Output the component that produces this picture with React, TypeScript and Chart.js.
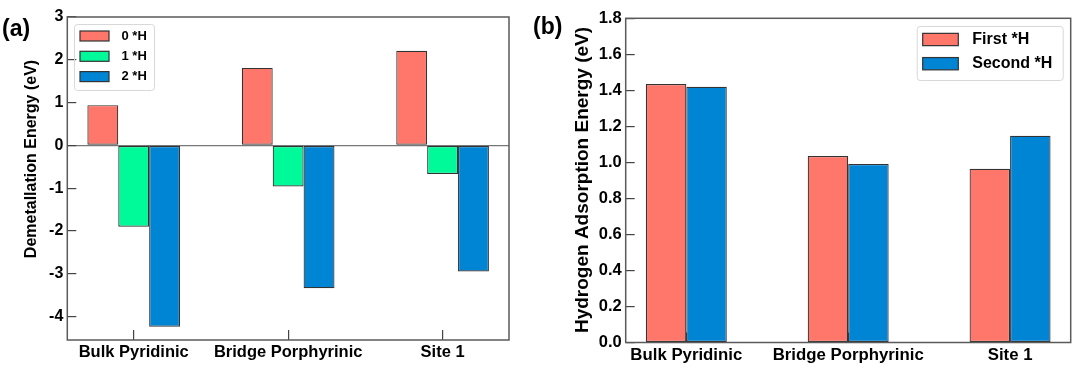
import React, { useEffect, useRef } from 'react';
import { Chart, registerables } from 'chart.js';

Chart.register(...registerables);

// ---------- data ----------
const categories = ['Bulk Pyridinic', 'Bridge Porphyrinic', 'Site 1'];

const leftSeriesLabels = ['0 *H', '1 *H', '2 *H'];
const zeroH = [0.94, 1.81, 2.21];
const oneH = [-1.9, -0.96, -0.67];
const twoH = [-4.24, -3.34, -2.95];
const leftYTicks = [3, 2, 1, 0, -1, -2, -3, -4];

const rightSeriesLabels = ['First *H', 'Second *H'];
const firstH = [1.435, 1.035, 0.965];
const secondH = [1.42, 0.991, 1.148];
const rightYTicks = [0, 0.2, 0.4, 0.6, 0.8, 1.0, 1.2, 1.4, 1.6, 1.8];

const leftYTitle = 'Demetallation Energy (eV)';
const rightYTitle = 'Hydrogen Adsorption Energy (eV)';

// ---------- styles ----------
const RED = '#FF766A';
const GREEN = '#00FA9A';
const BLUE = '#0084D4';
const BAR_BORDER = '#333333';
const FONT = 'Arial, "Liberation Sans", Helvetica, sans-serif';

const toPoints = (vals: number[]) => vals.map((v, i) => ({ x: i, y: v }));

// plot frame
const framePlugin = {
  id: 'frame',
  afterDraw(chart: any) {
    const { ctx, chartArea: a } = chart;
    ctx.save();
    ctx.strokeStyle = '#5a5a5a';
    ctx.lineWidth = 1.5;
    ctx.strokeRect(a.left, a.top, a.right - a.left, a.bottom - a.top);
    ctx.restore();
  },
};

// extra text: panel label + rotated y title
const textPlugin = {
  id: 'extraText',
  afterDraw(chart: any, _args: any, opts: any) {
    const { ctx } = chart;
    ctx.save();
    ctx.fillStyle = '#000';
    ctx.font = `bold ${opts.panelSize}px ${FONT}`;
    ctx.textAlign = 'left';
    ctx.textBaseline = 'alphabetic';
    ctx.fillText(opts.panel, opts.panelX, opts.panelY);
    ctx.translate(opts.titleX, opts.titleY);
    ctx.rotate(-Math.PI / 2);
    ctx.font = `bold ${opts.titleSize}px ${FONT}`;
    ctx.textAlign = 'center';
    ctx.textBaseline = 'middle';
    ctx.fillText(opts.title, 0, 0);
    ctx.restore();
  },
};

// boxed legend
const boxLegendPlugin = {
  id: 'boxLegend',
  afterDraw(chart: any, _args: any, o: any) {
    const { ctx } = chart;
    ctx.save();
    ctx.strokeStyle = '#d8d8d8';
    ctx.lineWidth = 1;
    ctx.beginPath();
    (ctx as any).roundRect(o.x + 0.5, o.y + 0.5, o.w, o.h, 3);
    ctx.stroke();
    ctx.font = `bold ${o.fontSize}px ${FONT}`;
    ctx.textAlign = 'left';
    ctx.textBaseline = 'middle';
    chart.data.datasets.forEach((ds: any, i: number) => {
      const cy = o.firstY + i * o.rowH;
      ctx.fillStyle = ds.backgroundColor;
      ctx.fillRect(o.swX, cy - o.swH / 2, o.swW, o.swH);
      ctx.strokeStyle = BAR_BORDER;
      ctx.lineWidth = 1.2;
      ctx.strokeRect(o.swX, cy - o.swH / 2, o.swW, o.swH);
      ctx.fillStyle = '#000';
      ctx.fillText(ds.label, o.textX, cy);
    });
    ctx.restore();
  },
};

function makeConfig(p: {
  datasets: any[];
  xMin: number;
  xMax: number;
  yMin: number;
  yMax: number;
  yTicks: number[];
  yFmt: (v: number) => string;
  yWidth: number;
  xHeight: number;
  padTop: number;
  padRight: number;
  catPct: number;
  tickFont: number;
  catFont: number;
  zeroLine: boolean;
  text: any;
  legend: any;
}) {
  return {
    type: 'bar' as const,
    data: { datasets: p.datasets },
    options: {
      animation: false,
      responsive: false,
      devicePixelRatio: 1,
      layout: { padding: { top: p.padTop, right: p.padRight, left: 0, bottom: 0 } },
      datasets: {
        bar: { categoryPercentage: p.catPct, barPercentage: 1 },
      },
      plugins: {
        legend: { display: false },
        tooltip: { enabled: false },
        extraText: p.text,
        boxLegend: p.legend,
      },
      scales: {
        x: {
          type: 'linear',
          offset: false,
          min: p.xMin,
          max: p.xMax,
          afterBuildTicks: (s: any) => {
            s.ticks = categories.map((_, i) => ({ value: i }));
          },
          afterFit: (s: any) => {
            s.height = p.xHeight;
            s.paddingLeft = 0;
            s.paddingRight = 0;
          },
          ticks: {
            callback: (v: any) => categories[v as number] ?? '',
            autoSkip: false,
            maxRotation: 0,
            includeBounds: false,
            padding: 13,
            color: '#000',
            font: { family: FONT, size: p.catFont, weight: 'bold' },
          },
          grid: {
            offset: false,
            drawOnChartArea: false,
            drawTicks: true,
            tickLength: -10,
            tickColor: '#444',
            lineWidth: 1.2,
          },
          border: { display: false },
        },
        y: {
          type: 'linear',
          min: p.yMin,
          max: p.yMax,
          afterBuildTicks: (s: any) => {
            s.ticks = p.yTicks.map((v) => ({ value: v }));
          },
          afterFit: (s: any) => {
            s.width = p.yWidth;
            s.paddingTop = 0;
            s.paddingBottom = 0;
          },
          ticks: {
            callback: (v: any) => p.yFmt(v as number),
            autoSkip: false,
            padding: 13,
            color: '#000',
            font: { family: FONT, size: p.tickFont, weight: 'bold' },
          },
          grid: {
            drawOnChartArea: p.zeroLine,
            drawTicks: true,
            tickLength: -9,
            tickColor: '#444',
            lineWidth: 1.2,
            color: (c: any) => (c.tick && c.tick.value === 0 ? '#777' : 'rgba(0,0,0,0)'),
          },
          border: { display: false },
        },
      },
    },
    plugins: [framePlugin, textPlugin, boxLegendPlugin],
  };
}

const barStyle = (color: string) => ({
  backgroundColor: color,
  borderColor: BAR_BORDER,
  borderWidth: 1.2,
  borderSkipped: false as const,
});

const LEFT_W = 525;
const RIGHT_W = 555;
const H = 371;

export default function App() {
  const leftRef = useRef<HTMLCanvasElement | null>(null);
  const rightRef = useRef<HTMLCanvasElement | null>(null);

  useEffect(() => {
    const leftCfg = makeConfig({
      datasets: [
        { label: leftSeriesLabels[0], data: toPoints(zeroH), ...barStyle(RED) },
        { label: leftSeriesLabels[1], data: toPoints(oneH), ...barStyle(GREEN) },
        { label: leftSeriesLabels[2], data: toPoints(twoH), ...barStyle(BLUE) },
      ],
      xMin: -0.43,
      xMax: 2.43,
      yMin: -4.55,
      yMax: 3,
      yTicks: leftYTicks,
      yFmt: (v) => String(v),
      yWidth: 67.3,
      xHeight: H - 340,
      padTop: 17,
      padRight: LEFT_W - 509,
      catPct: 0.6,
      tickFont: 16,
      catFont: 16.5,
      zeroLine: true,
      text: { panel: '(a)', panelSize: 23, panelX: 2, panelY: 36, title: leftYTitle, titleSize: 16, titleX: 32, titleY: 159 },
      legend: { x: 74, y: 24, w: 80, h: 66, firstY: 36, rowH: 20.3, swX: 80, swW: 29, swH: 10, textX: 121.5, fontSize: 13 },
    });

    const off = LEFT_W;
    const rightCfg = makeConfig({
      datasets: [
        { label: rightSeriesLabels[0], data: toPoints(firstH), ...barStyle(RED) },
        { label: rightSeriesLabels[1], data: toPoints(secondH), ...barStyle(BLUE) },
      ],
      xMin: -0.3745,
      xMax: 2.3745,
      yMin: 0,
      yMax: 1.8,
      yTicks: rightYTicks,
      yFmt: (v) => v.toFixed(1),
      yWidth: 625.7 - off,
      xHeight: H - 342.5,
      padTop: 18.3,
      padRight: 1080 - 1070.7,
      catPct: 0.5,
      tickFont: 16.5,
      catFont: 16.8,
      zeroLine: false,
      text: { panel: '(b)', panelSize: 23, panelX: 533 - off, panelY: 34, title: rightYTitle, titleSize: 19, titleX: 583 - off, titleY: 180 },
      legend: { x: 916.7 - off, y: 26, w: 146, h: 54, firstY: 39.5, rowH: 24.2, swX: 922.7 - off, swW: 35.6, swH: 12.3, textX: 972.3 - off, fontSize: 16 },
    });

    const lc = new Chart(leftRef.current as HTMLCanvasElement, leftCfg as any);
    const rc = new Chart(rightRef.current as HTMLCanvasElement, rightCfg as any);
    return () => {
      lc.destroy();
      rc.destroy();
    };
  }, []);

  return (
    <div style={{ position: 'absolute', left: 0, top: 0, width: 1080, height: H, background: '#fff', display: 'flex' }}>
      <canvas ref={leftRef} width={LEFT_W} height={H} style={{ width: LEFT_W, height: H, display: 'block' }} />
      <canvas ref={rightRef} width={RIGHT_W} height={H} style={{ width: RIGHT_W, height: H, display: 'block' }} />
    </div>
  );
}
